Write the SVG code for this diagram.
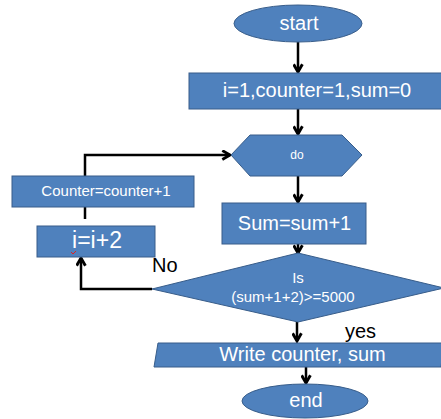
<svg xmlns="http://www.w3.org/2000/svg" width="441" height="419" viewBox="0 0 441 419">
  <defs>
    <marker id="arrow" viewBox="0 0 10 10" refX="8.5" refY="5" markerWidth="4.4" markerHeight="4.4" orient="auto" markerUnits="strokeWidth">
      <path d="M1.5,1 L8.5,5 L1.5,9" fill="none" stroke="#000" stroke-width="2.6" stroke-linejoin="miter"/>
    </marker>
    <style>
      .shape { fill: #4F81BD; stroke: #385D8A; stroke-width: 1; }
      .lbl { fill: #FFFFFF; font-family: "Liberation Sans", Arial, sans-serif; text-anchor: middle; }
      .note { fill: #000000; font-family: "Liberation Sans", Arial, sans-serif; font-size: 20px; }
      .wire { fill: none; stroke: #000; stroke-width: 2.5; }
    </style>
  </defs>

  <rect width="441" height="419" fill="#FFFFFF"/>

  <g id="connectors">
    <line class="wire" x1="298" y1="42" x2="298" y2="72" marker-end="url(#arrow)"/>
    <line class="wire" x1="298" y1="109" x2="298" y2="134" marker-end="url(#arrow)"/>
    <line class="wire" x1="298" y1="176" x2="298" y2="202" marker-end="url(#arrow)"/>
    <line class="wire" x1="298" y1="240" x2="298" y2="253" marker-end="url(#arrow)"/>
    <line class="wire" x1="297" y1="322" x2="297" y2="341" marker-end="url(#arrow)"/>
    <line class="wire" x1="306" y1="367" x2="306" y2="383" marker-end="url(#arrow)"/>
    <!-- loop back: counter box up to the do block -->
    <polyline class="wire" points="85,177 85,155 230,155" marker-end="url(#arrow)"/>
    <line class="wire" x1="85" y1="207" x2="85" y2="219"/>
    <!-- "No" branch back to i=i+2 -->
    <polyline class="wire" points="152,289 81,289 81,258" marker-end="url(#arrow)"/>
  </g>

  <g id="start">
    <ellipse class="shape" cx="298" cy="23.5" rx="64" ry="18.5"/>
    <text class="lbl" x="299" y="30" font-size="20">start</text>
  </g>

  <g id="init">
    <rect class="shape" x="189" y="73" width="253" height="36"/>
    <text class="lbl" x="317" y="97" font-size="20">i=1,counter=1,sum=0</text>
  </g>

  <g id="do">
    <polygon class="shape" points="231,155 250,135 342,135 362,155 342,176 250,176"/>
    <text class="lbl" x="297" y="159" font-size="12">do</text>
  </g>

  <g id="counter">
    <rect class="shape" x="12" y="176" width="182" height="31"/>
    <text class="lbl" x="106" y="196" font-size="15">Counter=counter+1</text>
  </g>

  <g id="inc-i">
    <rect class="shape" x="37" y="226" width="118" height="31"/>
    <text class="lbl" x="97" y="248" font-size="23">i=i+2</text>
    <path d="M71,252 l2,2 l3,-3" fill="none" stroke="#E02020" stroke-width="1"/>
  </g>

  <g id="sum">
    <rect class="shape" x="222" y="203" width="144" height="41"/>
    <text class="lbl" x="294.5" y="230" font-size="20">Sum=sum+1</text>
  </g>

  <g id="test">
    <polygon class="shape" points="298,253 444,288 298,322 152,289"/>
    <text class="lbl" x="298" y="283" font-size="15">Is</text>
    <text class="lbl" x="293" y="302" font-size="15">(sum+1+2)&gt;=5000</text>
  </g>

  <g id="output">
    <polygon class="shape" points="158,343 444,343 441,367 154,367"/>
    <text class="lbl" x="302.5" y="361" font-size="20">Write counter, sum</text>
  </g>

  <g id="end">
    <ellipse class="shape" cx="305" cy="401" rx="63" ry="17"/>
    <text class="lbl" x="306" y="407" font-size="20">end</text>
  </g>

  <text class="note" x="152" y="272">No</text>
  <text class="note" x="345" y="338">yes</text>
</svg>
